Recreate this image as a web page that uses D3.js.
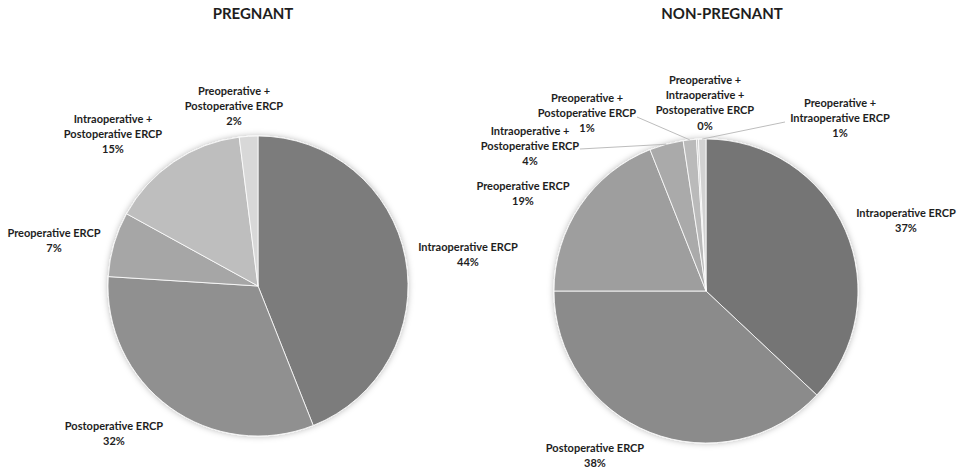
<!DOCTYPE html>
<html>
<head>
<meta charset="utf-8">
<script src="https://cdn.jsdelivr.net/npm/d3@7"></script>
<style>
  html, body { margin: 0; padding: 0; background: #ffffff; }
  svg { display: block; }
  text { font-family: Lato, "Open Sans", sans-serif; font-weight: 700; fill: #1e1e1e; }
</style>
</head>
<body>
<svg id="chart" width="966" height="472"></svg>
<script>
// ---------------- DATA ----------------
const pregnantTitle = "PREGNANT";
const pregnantCategories = [
  "Intraoperative ERCP",
  "Postoperative ERCP",
  "Preoperative ERCP",
  "Intraoperative + Postoperative ERCP",
  "Preoperative + Postoperative ERCP"
];
const pregnantValues = [44, 32, 7, 15, 2];
const pregnantPctLabels = ["44%", "32%", "7%", "15%", "2%"];
const pregnantLabelLines = [
  ["Intraoperative ERCP"],
  ["Postoperative ERCP"],
  ["Preoperative ERCP"],
  ["Intraoperative +", "Postoperative ERCP"],
  ["Preoperative +", "Postoperative ERCP"]
];

const nonPregnantTitle = "NON-PREGNANT";
const nonPregnantCategories = [
  "Intraoperative ERCP",
  "Postoperative ERCP",
  "Preoperative ERCP",
  "Intraoperative + Postoperative ERCP",
  "Preoperative + Postoperative ERCP",
  "Preoperative + Intraoperative + Postoperative ERCP",
  "Preoperative + Intraoperative ERCP"
];
const nonPregnantValues = [37, 38, 19, 3.6, 1.4, 0.2, 0.8];
const nonPregnantPctLabels = ["37%", "38%", "19%", "4%", "1%", "0%", "1%"];
const nonPregnantLabelLines = [
  ["Intraoperative ERCP"],
  ["Postoperative ERCP"],
  ["Preoperative ERCP"],
  ["Intraoperative +", "Postoperative ERCP"],
  ["Preoperative +", "Postoperative ERCP"],
  ["Preoperative +", "Intraoperative +", "Postoperative ERCP"],
  ["Preoperative +", "Intraoperative ERCP"]
];

// ---------------- LAYOUT / STYLE ----------------
const pregnantColors = ["#7b7b7b", "#909090", "#a6a6a6", "#bebebe", "#d8d8d8"];
const nonPregnantColors = ["#757575", "#8b8b8b", "#9e9e9e", "#aaaaaa", "#bababa", "#c6c6c6", "#d2d2d2"];

// label block anchor (center x, first line y) relative to pie center
const pregnantLabelOffsets = [[210, -39], [-144, 140], [-204, -53], [-145, -167], [-24, -195]];
const nonPregnantLabelOffsets = [[200, -78], [-111, 157], [-183, -105], [-176, -160], [-119, -193], [-1, -211], [134, -188]];
// leader line start (relative to pie center), null = no leader
const pregnantLeaders = [null, null, null, null, null];
const nonPregnantLeaders = [null, null, null, [-126, -142], [-69, -174], null, [79, -169]];

const lineGap = 15.3;

const svg = d3.select("#chart");
const defs = svg.append("defs");
const flt = defs.append("filter").attr("id", "shadow")
  .attr("x", "-20%").attr("y", "-20%").attr("width", "140%").attr("height", "140%");
flt.append("feDropShadow").attr("dx", 0).attr("dy", 0).attr("stdDeviation", 3)
  .attr("flood-color", "#000").attr("flood-opacity", 0.28);

function drawPie(cfg) {
  const g = svg.append("g").attr("transform", `translate(${cfg.cx},${cfg.cy})`);
  const data = cfg.values.map((v, i) => ({
    value: v, cat: cfg.categories[i], color: cfg.colors[i],
    lines: cfg.labelLines[i], pct: cfg.pct[i], off: cfg.offsets[i], leader: cfg.leaders[i]
  }));
  const pie = d3.pie().value(d => d.value).sort(null);
  const arcs = pie(data);
  const arc = d3.arc().innerRadius(0).outerRadius(cfg.r);

  g.append("g").attr("filter", "url(#shadow)")
    .selectAll("path").data(arcs).join("path")
    .attr("d", arc)
    .attr("fill", d => d.data.color)
    .attr("stroke", "#ffffff")
    .attr("stroke-width", 0.8)
    .attr("stroke-linejoin", "round");

  // leader lines
  const pt = d3.arc().innerRadius(cfg.r).outerRadius(cfg.r);
  arcs.forEach(a => {
    if (!a.data.leader) return;
    const mid = (a.startAngle + a.endAngle) / 2;
    const ex = cfg.r * Math.sin(mid), ey = -cfg.r * Math.cos(mid);
    g.append("line")
      .attr("x1", a.data.leader[0]).attr("y1", a.data.leader[1])
      .attr("x2", ex).attr("y2", ey)
      .attr("stroke", "#bdbdbd").attr("stroke-width", 1);
  });

  // labels
  arcs.forEach(a => {
    const lines = a.data.lines.concat([a.data.pct]);
    const t = g.append("text")
      .attr("text-anchor", "middle")
      .attr("font-size", 11);
    lines.forEach((ln, k) => {
      t.append("tspan")
        .attr("x", a.data.off[0])
        .attr("y", a.data.off[1] + k * lineGap)
        .attr("dy", "0.35em")
        .text(ln);
    });
  });

  svg.append("text")
    .attr("x", cfg.cx + cfg.titleDx).attr("y", 14)
    .attr("dy", "0.35em")
    .attr("text-anchor", "middle")
    .attr("font-size", 15)
    .text(cfg.title);
}

drawPie({
  cx: 258, cy: 286, r: 150, titleDx: -5,
  title: pregnantTitle, categories: pregnantCategories, values: pregnantValues,
  colors: pregnantColors, labelLines: pregnantLabelLines, pct: pregnantPctLabels,
  offsets: pregnantLabelOffsets, leaders: pregnantLeaders
});
drawPie({
  cx: 706, cy: 291, r: 152, titleDx: 16,
  title: nonPregnantTitle, categories: nonPregnantCategories, values: nonPregnantValues,
  colors: nonPregnantColors, labelLines: nonPregnantLabelLines, pct: nonPregnantPctLabels,
  offsets: nonPregnantLabelOffsets, leaders: nonPregnantLeaders
});
</script>
</body>
</html>
